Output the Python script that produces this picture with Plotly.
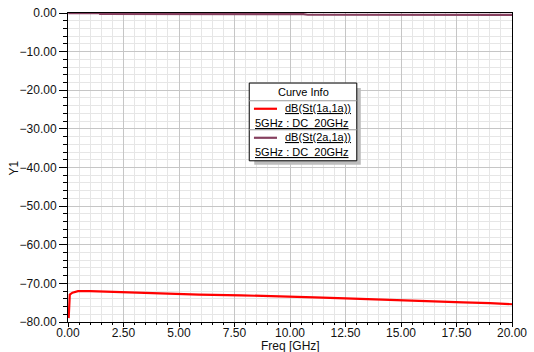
import plotly.graph_objects as go

# ---- data ----
freq_s11 = [0.03, 0.05, 0.08, 0.2, 0.45, 1.0, 2.4, 4.0, 5.9, 7.8, 9.5, 11.1,
            12.5, 13.9, 15.2, 16.5, 17.8, 19.0, 20.0]
db_s11 = [-79.0, -75.0, -72.9, -72.4, -72.0, -72.0, -72.3, -72.6, -72.9, -73.1,
          -73.3, -73.6, -73.9, -74.2, -74.4, -74.6, -74.9, -75.1, -75.4]

freq_s21 = [0.01, 0.7, 1.42, 1.44, 6.0, 10.6, 10.8, 15.0, 20.0]
db_s21 = [-0.02, -0.03, -0.05, -0.25, -0.25, -0.3, -0.45, -0.47, -0.5]

names = ["dB(St(1a,1a))", "dB(St(2a,1a))"]
sweep_label = "5GHz : DC\u00a0 20GHz"
colors = ["#ff0000", "#86405f"]
legend_title = "Curve Info"
x_title = "Freq [GHz]"
y_title = "Y1"

W, H = 534, 352
L, R, T, B = 68.3, 511.7, 13.3, 322.1
FONT = "Arial, Liberation Sans, sans-serif"


def px(x):
    return (x - L) / (R - L)


def py(y):
    return (B - y) / (B - T)


fig = go.Figure()
fig.add_trace(go.Scatter(x=freq_s11, y=db_s11, mode="lines", name=names[0],
                         line=dict(color=colors[0], width=2.2)))
fig.add_trace(go.Scatter(x=freq_s21, y=db_s21, mode="lines", name=names[1],
                         line=dict(color=colors[1], width=2.2)))

axis_common = dict(
    showline=True, linecolor="black", linewidth=1, mirror=True,
    ticks="outside", tickcolor="black", tickwidth=1,
    showgrid=True, gridcolor="#c6c6c6", gridwidth=1,
    zeroline=False, tickformat=".2f", automargin=False,
    tickfont=dict(family=FONT, size=12, color="#111111"),
    layer="below traces",
)

fig.update_xaxes(range=[0, 20], dtick=2.5, tick0=0, ticklen=4, ticklabelstandoff=-4,
                 minor=dict(dtick=0.5, ticklen=2, ticks="outside", tickcolor="black",
                            showgrid=True, gridcolor="#e6e6e6"),
                 **axis_common)
fig.update_yaxes(range=[-80, 0], dtick=10, tick0=0, ticklen=8,
                 minor=dict(dtick=2, ticklen=4, ticks="outside", tickcolor="black",
                            showgrid=True, gridcolor="#e6e6e6"),
                 **axis_common)

shapes = []
annotations = []

# axis titles
annotations.append(dict(text=x_title, xref="paper", yref="paper",
                        x=px(290), y=py(346.5), showarrow=False,
                        font=dict(family=FONT, size=12, color="#111111"),
                        xanchor="center", yanchor="middle"))
annotations.append(dict(text=y_title, xref="paper", yref="paper",
                        x=px(14), y=py(168), showarrow=False, textangle=-90,
                        font=dict(family=FONT, size=12, color="#111111"),
                        xanchor="center", yanchor="middle"))

# legend box ("Curve Info")
bx0, bx1, by0, by1 = 249.3, 356.7, 83.3, 161.0
shapes.append(dict(type="rect", xref="paper", yref="paper",
                   x0=px(bx0 + 5), x1=px(bx1 + 4), y0=py(by0 + 5), y1=py(by1 + 4),
                   fillcolor="#bdbdbd", line=dict(width=0)))
shapes.append(dict(type="rect", xref="paper", yref="paper",
                   x0=px(bx0), x1=px(bx1), y0=py(by0), y1=py(by1),
                   fillcolor="white", line=dict(color="black", width=1)))
for sy in (101, 130):
    shapes.append(dict(type="line", xref="paper", yref="paper",
                       x0=px(bx0), x1=px(bx1), y0=py(sy), y1=py(sy),
                       line=dict(color="#9a9a9a", width=1)))

annotations.append(dict(text=legend_title, xref="paper", yref="paper",
                        x=px((bx0 + bx1) / 2), y=py(92), showarrow=False,
                        font=dict(family=FONT, size=11, color="black"),
                        xanchor="center", yanchor="middle"))

rows = [(109, 123), (138, 152)]
for i, (yl, ys) in enumerate(rows):
    shapes.append(dict(type="line", xref="paper", yref="paper",
                       x0=px(254), x1=px(277), y0=py(yl), y1=py(yl),
                       line=dict(color=colors[i], width=2.2)))
    annotations.append(dict(text="<u>" + names[i] + "</u>", xref="paper", yref="paper",
                            x=px(353), y=py(yl - 1), showarrow=False,
                            font=dict(family=FONT, size=11, color="black"),
                            xanchor="right", yanchor="middle"))
    annotations.append(dict(text="<u>" + sweep_label + "</u>", xref="paper", yref="paper",
                            x=px(253.5), y=py(ys), showarrow=False,
                            font=dict(family=FONT, size=11, color="black"),
                            xanchor="left", yanchor="middle"))

fig.update_layout(
    width=W, height=H,
    margin=dict(l=L, r=W - R, t=T, b=H - B, pad=0),
    paper_bgcolor="white", plot_bgcolor="white",
    showlegend=False,
    shapes=shapes, annotations=annotations,
    font=dict(family=FONT, size=12, color="#111111"),
)

fig.write_html("out.html")
